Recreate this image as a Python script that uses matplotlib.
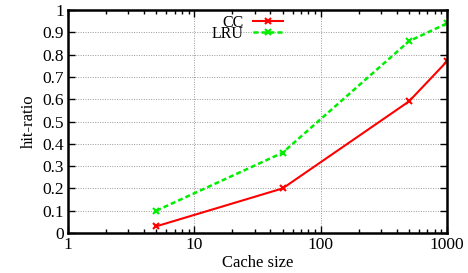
import matplotlib.pyplot as plt
from matplotlib.ticker import FixedLocator, FormatStrFormatter, LogLocator

cache_size = [5, 50, 500, 1000]
cc_hit = [0.03, 0.20, 0.59, 0.77]
lru_hit = [0.10, 0.36, 0.86, 0.94]

plt.rcParams["font.family"] = ["Liberation Serif", "DejaVu Serif"]
plt.rcParams["font.size"] = 12

fig = plt.figure(figsize=(4.68, 2.73), dpi=100)
ax = fig.add_axes([68 / 468, 40 / 273, 379 / 468, 223 / 273])

ax.plot(cache_size, cc_hit, color="#ff0000", lw=1.5, marker="x", ms=5, mew=1.5)
ax.plot(cache_size, lru_hit, color="#00ee00", lw=1.8, ls=(0, (2, 1.2)),
        marker="x", ms=5, mew=1.5)

ax.set_xscale("log")
ax.set_xlim(1, 1000)
ax.set_ylim(0, 1)
ax.xaxis.set_major_locator(FixedLocator([1, 10, 100, 1000]))
ax.xaxis.set_major_formatter(FormatStrFormatter("%g"))
ax.xaxis.set_minor_locator(LogLocator(base=10, subs=range(2, 10)))
ax.set_yticks([i / 10 for i in range(11)])
ax.yaxis.set_major_formatter(FormatStrFormatter("%g"))

ax.tick_params(which="both", direction="in", top=True, right=True, pad=3, labelsize=12.5)
ax.tick_params(which="major", length=5, width=1)
ax.tick_params(which="minor", length=3, width=1)
ax.grid(True, which="major", color="#999999", ls=(0, (1, 1.5)), lw=0.7)
for s in ax.spines.values():
    s.set_linewidth(1.8)

ax.set_xlabel("Cache size", labelpad=1)
ax.set_ylabel("hit-ratio", labelpad=4)

# two one-entry legends so the labels sit right-aligned like gnuplot
l1, = ax.plot([], [], color="#ff0000", lw=1.5, marker="x", ms=5, mew=1.5)
l2, = ax.plot([], [], color="#00ee00", lw=1.8, ls=(0, (2, 1.2)), marker="x", ms=5, mew=1.5)
leg1 = ax.legend([l1], ["CC"], loc="upper right", bbox_to_anchor=(0.567, 0.978),
                 frameon=False, markerfirst=False, handlelength=1.9, handletextpad=0.55,
                 borderpad=0, borderaxespad=0, fontsize=11.5)
ax.add_artist(leg1)
ax.legend([l2], ["LRU"], loc="upper right", bbox_to_anchor=(0.567, 0.93),
          frameon=False, markerfirst=False, handlelength=1.9, handletextpad=0.55,
          borderpad=0, borderaxespad=0, fontsize=11.5)

fig.savefig("out.png", dpi=100)
